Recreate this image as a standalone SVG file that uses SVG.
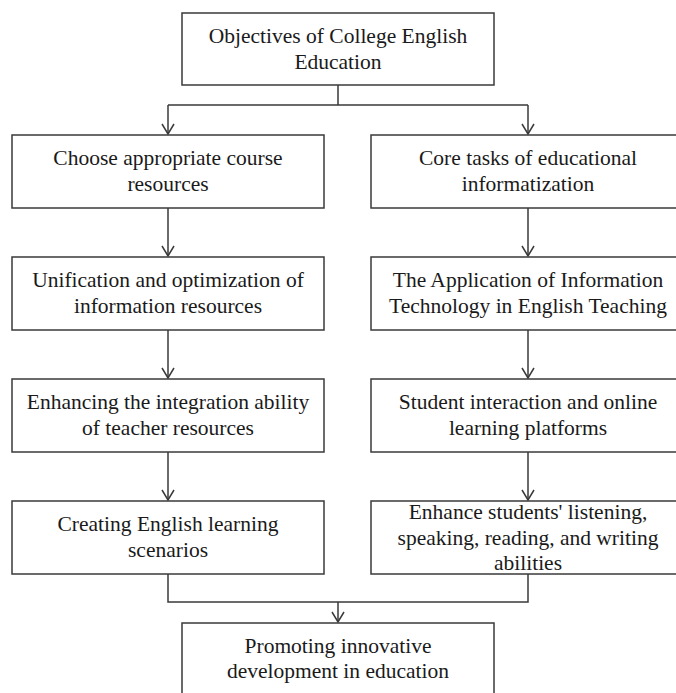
<svg xmlns="http://www.w3.org/2000/svg" width="676" height="693" viewBox="0 0 676 693">
<style>
.box{fill:#fff;stroke:#3a3a3a;stroke-width:1.5}
.t{font-family:"Liberation Serif","Times New Roman",Times,serif;font-size:21.5px;fill:#1a1a1a;text-anchor:middle}
.c{fill:none;stroke:#3a3a3a;stroke-width:1.5}
</style>
<defs>
<marker id="ah" viewBox="-11 -7 12 14" refX="0" refY="0" markerWidth="12" markerHeight="14" markerUnits="userSpaceOnUse" orient="auto">
<path d="M-10,-6 L0,0 L-10,6" fill="none" stroke="#3a3a3a" stroke-width="1.5"/>
</marker>
</defs>
<rect width="676" height="693" fill="#fff"/>
<g id="connectors">
<path class="c" d="M338,85 V105 M168,105 H528"/>
<path class="c" d="M168,105 V134" marker-end="url(#ah)"/>
<path class="c" d="M528,105 V134" marker-end="url(#ah)"/>
<path class="c" d="M168,208 V256" marker-end="url(#ah)"/>
<path class="c" d="M168,330 V378" marker-end="url(#ah)"/>
<path class="c" d="M168,452 V500" marker-end="url(#ah)"/>
<path class="c" d="M528,208 V256" marker-end="url(#ah)"/>
<path class="c" d="M528,330 V378" marker-end="url(#ah)"/>
<path class="c" d="M528,452 V500" marker-end="url(#ah)"/>
<path class="c" d="M168,574 V602 H528 V574"/>
<path class="c" d="M338,602 V622" marker-end="url(#ah)"/>
</g>
<g id="n0"><rect class="box" x="182" y="13" width="312" height="72"/>
<text class="t" x="338" y="43">Objectives of College English</text><text class="t" x="338" y="69">Education</text></g>
<g id="n1"><rect class="box" x="12" y="135" width="312" height="73"/>
<text class="t" x="168" y="165">Choose appropriate course</text><text class="t" x="168" y="191">resources</text></g>
<g id="n2"><rect class="box" x="12" y="257" width="312" height="73"/>
<text class="t" x="168" y="287">Unification and optimization of</text><text class="t" x="168" y="313">information resources</text></g>
<g id="n3"><rect class="box" x="12" y="379" width="312" height="73"/>
<text class="t" x="168" y="409">Enhancing the integration ability</text><text class="t" x="168" y="435">of teacher resources</text></g>
<g id="n4"><rect class="box" x="12" y="501" width="312" height="73"/>
<text class="t" x="168" y="531">Creating English learning</text><text class="t" x="168" y="557">scenarios</text></g>
<g id="n5"><rect class="box" x="371" y="135" width="313" height="73"/>
<text class="t" x="528" y="165">Core tasks of educational</text><text class="t" x="528" y="191">informatization</text></g>
<g id="n6"><rect class="box" x="371" y="257" width="313" height="73"/>
<text class="t" x="528" y="287">The Application of Information</text><text class="t" x="528" y="313">Technology in English Teaching</text></g>
<g id="n7"><rect class="box" x="371" y="379" width="313" height="73"/>
<text class="t" x="528" y="409">Student interaction and online</text><text class="t" x="528" y="435">learning platforms</text></g>
<g id="n8"><rect class="box" x="371" y="501" width="313" height="73"/>
<text class="t" x="528" y="519">Enhance students' listening,</text><text class="t" x="528" y="545">speaking, reading, and writing</text><text class="t" x="528" y="570">abilities</text></g>
<g id="n9"><rect class="box" x="182" y="623" width="312" height="80"/>
<text class="t" x="338" y="653">Promoting innovative</text><text class="t" x="338" y="678">development in education</text></g>
</svg>
